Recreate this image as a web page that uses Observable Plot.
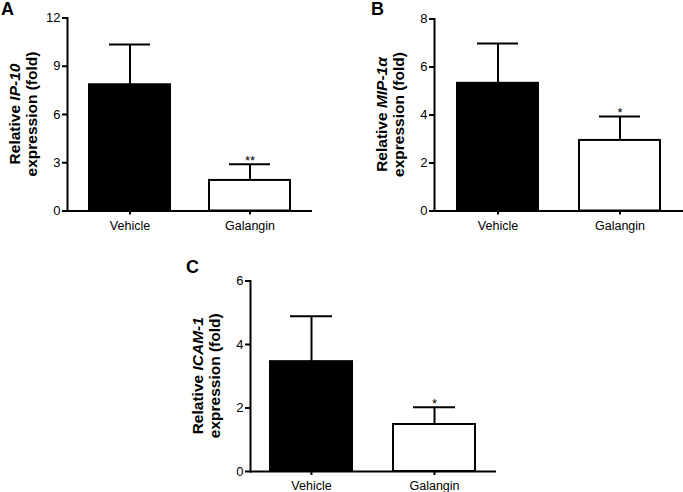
<!DOCTYPE html>
<html><head><meta charset="utf-8">
<script src="https://cdn.jsdelivr.net/npm/d3@7"></script>
<script src="https://cdn.jsdelivr.net/npm/@observablehq/plot@0.6"></script>
<style>
html,body{margin:0;padding:0;background:#fff;}
#wrap{position:relative;width:683px;height:492px;overflow:hidden;font-family:"Liberation Sans",Arial,sans-serif;background:#fff;}
#wrap svg{position:absolute;}
</style></head><body><div id="wrap"></div>
<script>
// ---- data ----
const groups = ["Vehicle", "Galangin"];
const ip10Mean = [7.85, 1.9];
const ip10Err = [2.5, 1.0];
const ip10Sig = ["", "**"];
const mip1aMean = [5.32, 2.94];
const mip1aErr = [1.66, 1.0];
const mip1aSig = ["", "*"];
const icam1Mean = [3.46, 1.48];
const icam1Err = [1.43, 0.54];
const icam1Sig = ["", "*"];
const ip10Ticks = [0, 3, 6, 9, 12];
const mip1aTicks = [0, 2, 4, 6, 8];
const icam1Ticks = [0, 2, 4, 6];

// ---- styling / layout ----
const fills = {Vehicle: "black", Galangin: "white"};
const FONT = '"Liberation Sans", Arial, sans-serif';
const panels = [
  {letter: "A", gene: "IP-10", mean: ip10Mean, err: ip10Err, sig: ip10Sig, ticks: ip10Ticks, max: 12,
   left: 0, top: 0, width: 312, height: 240, mL: 67, mT: 17.5, mB: 29.5, po: 0.174, pi: 0.322, lx: 1, ly: 15},
  {letter: "B", gene: "MIP-1α", mean: mip1aMean, err: mip1aErr, sig: mip1aSig, ticks: mip1aTicks, max: 8,
   left: 340, top: 0, width: 343, height: 240, mL: 94, mT: 18.5, mB: 29.5, po: 0.185, pi: 0.333, lx: 31, ly: 15},
  {letter: "C", gene: "ICAM-1", mean: icam1Mean, err: icam1Err, sig: icam1Sig, ticks: icam1Ticks, max: 6,
   left: 180, top: 240, width: 316, height: 252, mL: 70, mT: 40.5, mB: 21, po: 0.163, pi: 0.33, lx: 6, ly: 33}
];

const wrap = document.getElementById("wrap");
for (const p of panels) {
  const data = groups.map((g, i) => ({group: g, mean: p.mean[i], top: p.mean[i] + p.err[i], sig: p.sig[i]}));
  const plot = Plot.plot({
    width: p.width, height: p.height,
    marginLeft: p.mL, marginRight: 0, marginTop: p.mT, marginBottom: p.mB,
    style: {background: "transparent", fontFamily: FONT, fontSize: "12px", color: "black", overflow: "visible"},
    x: {domain: groups, paddingInner: p.pi, paddingOuter: p.po, axis: null},
    y: {domain: [0, p.max], axis: null},
    color: {type: "identity"},
    marks: [
      Plot.barY(data, {x: "group", y: "mean", fill: d => fills[d.group], stroke: "black", strokeWidth: 2}),
      Plot.ruleX(data, {x: "group", y1: "mean", y2: "top", stroke: "black", strokeWidth: 2}),
      Plot.tickY(data, {x: "group", y: "top", stroke: "black", strokeWidth: 2, insetLeft: 20, insetRight: 20}),
      Plot.text(data, {x: "group", y: "top", text: "sig", lineAnchor: "bottom", dy: 1, fontSize: 13, fill: "black"}),
      Plot.ruleY([0], {stroke: "black", strokeWidth: 2}),
      Plot.frame({anchor: "left", stroke: "black", strokeWidth: 2}),
      Plot.axisY({ticks: p.ticks, tickFormat: d3.format("d"), tickSize: 5, tickPadding: 2, strokeWidth: 2, fontSize: 13, label: null}),
      Plot.axisX({tickSize: 4, tickPadding: 6, strokeWidth: 2, fontSize: 12.5, label: null})
    ]
  });
  plot.style.left = p.left + "px";
  plot.style.top = p.top + "px";
  const svg = d3.select(plot);
  const yr = plot.scale("y").range;
  const cy = (yr[0] + yr[1]) / 2;
  const t1 = svg.append("text")
    .attr("transform", `translate(${p.mL - 47},${cy}) rotate(-90)`)
    .attr("text-anchor", "middle").attr("font-weight", "bold").attr("font-size", 15.5)
    .attr("font-family", FONT).attr("fill", "black");
  t1.append("tspan").text("Relative ");
  t1.append("tspan").attr("font-style", "italic").text(p.gene);
  svg.append("text")
    .attr("transform", `translate(${p.mL - 30},${cy}) rotate(-90)`)
    .attr("text-anchor", "middle").attr("font-weight", "bold").attr("font-size", 15.5)
    .attr("font-family", FONT).attr("fill", "black")
    .text("expression (fold)");
  svg.append("text")
    .attr("x", p.lx).attr("y", p.ly)
    .attr("text-anchor", "start")
    .attr("font-weight", "bold").attr("font-size", 18)
    .attr("font-family", FONT).attr("fill", "black")
    .text(p.letter);
  wrap.appendChild(plot);
}
</script>
</body></html>
